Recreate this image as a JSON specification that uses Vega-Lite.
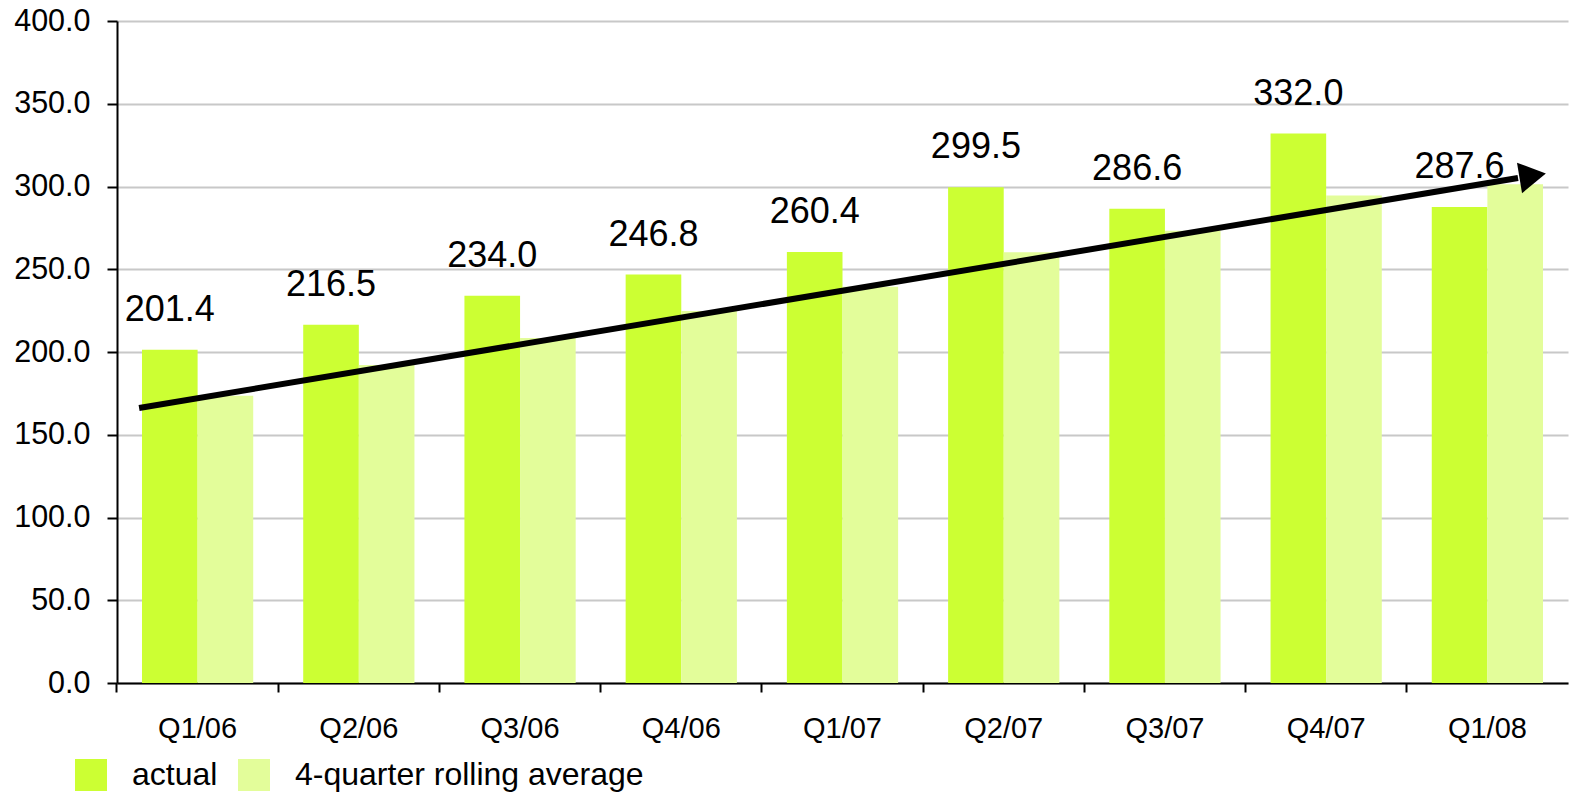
{
  "$schema": "https://vega.github.io/schema/vega-lite/v6.json",
  "width": 1451,
  "height": 662,
  "autosize": {"type": "none"},
  "padding": {"left": 117, "top": 21, "right": 3, "bottom": 110},
  "background": "white",
  "config": {
    "font": "Liberation Sans",
    "view": {"stroke": null},
    "axis": {"labelColor": "black", "labelFont": "Liberation Sans"},
    "legend": {"labelColor": "black", "labelFont": "Liberation Sans"}
  },
  "datasets": {
    "bars": [
      {"quarter": "Q1/06", "series": "actual", "value": 201.4},
      {"quarter": "Q1/06", "series": "4-quarter rolling average", "value": 173.5},
      {"quarter": "Q2/06", "series": "actual", "value": 216.5},
      {"quarter": "Q2/06", "series": "4-quarter rolling average", "value": 192.1},
      {"quarter": "Q3/06", "series": "actual", "value": 234.0},
      {"quarter": "Q3/06", "series": "4-quarter rolling average", "value": 208.5},
      {"quarter": "Q4/06", "series": "actual", "value": 246.8},
      {"quarter": "Q4/06", "series": "4-quarter rolling average", "value": 224.7},
      {"quarter": "Q1/07", "series": "actual", "value": 260.4},
      {"quarter": "Q1/07", "series": "4-quarter rolling average", "value": 239.4},
      {"quarter": "Q2/07", "series": "actual", "value": 299.5},
      {"quarter": "Q2/07", "series": "4-quarter rolling average", "value": 260.2},
      {"quarter": "Q3/07", "series": "actual", "value": 286.6},
      {"quarter": "Q3/07", "series": "4-quarter rolling average", "value": 273.3},
      {"quarter": "Q4/07", "series": "actual", "value": 332.0},
      {"quarter": "Q4/07", "series": "4-quarter rolling average", "value": 294.6},
      {"quarter": "Q1/08", "series": "actual", "value": 287.6},
      {"quarter": "Q1/08", "series": "4-quarter rolling average", "value": 301.4}
    ],
    "trend": [
      {"pos": 0.137, "value": 166.2},
      {"pos": 8.69, "value": 305.1}
    ],
    "head": [
      {"pos": 8.781, "value": 306.5}
    ]
  },
  "layer": [
    {
      "data": {"name": "bars"},
      "encoding": {
        "x": {
          "field": "quarter",
          "type": "nominal",
          "sort": null,
          "scale": {"paddingInner": 0.31, "paddingOuter": 0.155},
          "axis": {
            "title": null,
            "labelAngle": 0,
            "bandPosition": -0.2247,
            "labelFontSize": 29,
            "labelPadding": 22,
            "labelBaseline": "top",
            "domainColor": "black",
            "domainWidth": 2,
            "tickColor": "black",
            "tickWidth": 2,
            "tickSize": 9,
            "grid": false
          }
        },
        "xOffset": {
          "field": "series",
          "type": "nominal",
          "scale": {"domain": ["actual", "4-quarter rolling average"]}
        },
        "y": {
          "field": "value",
          "type": "quantitative",
          "scale": {"domain": [0, 400], "nice": false},
          "axis": {
            "title": null,
            "values": [0, 50, 100, 150, 200, 250, 300, 350, 400],
            "format": ".1f",
            "labelFontSize": 30.5,
            "labelPadding": 17,
            "domainColor": "black",
            "domainWidth": 2,
            "tickColor": "black",
            "tickWidth": 2,
            "tickSize": 10,
            "gridColor": "#c8c8c8",
            "gridWidth": 2
          }
        }
      },
      "layer": [
        {
          "mark": {"type": "bar"},
          "encoding": {
            "color": {
              "field": "series",
              "type": "nominal",
              "scale": {
                "domain": ["actual", "4-quarter rolling average"],
                "range": ["#ccff33", "#e3fd9a"]
              },
              "legend": {
                "title": null,
                "orient": "none",
                "legendX": -42,
                "legendY": 738,
                "direction": "horizontal",
                "padding": 0,
                "symbolType": "square",
                "symbolSize": 1024,
                "symbolStrokeWidth": 0,
                "symbolOpacity": 1,
                "labelFontSize": 32,
                "labelLimit": 0,
                "labelOffset": 25,
                "columnPadding": 20
              }
            }
          }
        },
        {
          "transform": [{"filter": "datum.series == 'actual'"}],
          "mark": {"type": "text", "fontSize": 36, "dy": -40, "baseline": "middle", "color": "black"},
          "encoding": {
            "text": {"field": "value", "type": "quantitative", "format": ".1f"}
          }
        }
      ]
    },
    {
      "encoding": {
        "x": {
          "field": "pos",
          "type": "quantitative",
          "scale": {"domain": [0, 9], "nice": false, "zero": false},
          "axis": null
        },
        "y": {"field": "value", "type": "quantitative"}
      },
      "layer": [
        {
          "data": {"name": "trend"},
          "mark": {"type": "line", "color": "black", "strokeWidth": 6, "strokeCap": "butt"}
        },
        {
          "data": {"name": "head"},
          "mark": {"type": "point", "shape": "triangle-right", "size": 950, "filled": true, "color": "black", "opacity": 1, "strokeWidth": 0, "angle": 350.6}
        }
      ]
    }
  ],
  "resolve": {"scale": {"x": "independent"}, "axis": {"x": "independent"}}
}
